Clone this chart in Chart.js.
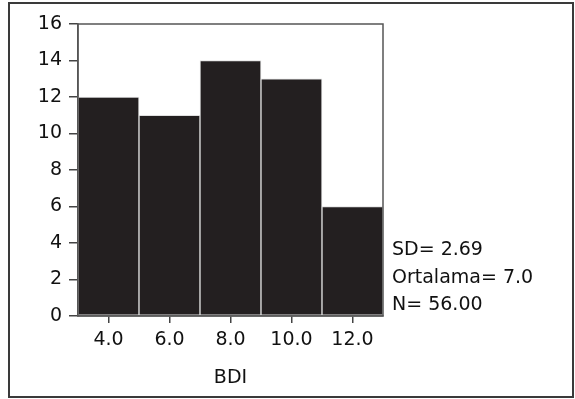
<!DOCTYPE html>
<html>
<head>
<meta charset="utf-8">
<script src="https://cdn.jsdelivr.net/npm/chart.js@4"></script>
<style>
  html, body { margin: 0; padding: 0; background: #fff; }
  #wrap { width: 575px; height: 399px; }
</style>
</head>
<body>
<div id="wrap"><canvas id="grafico" width="575" height="399"></canvas></div>
<script>
// Datos del histograma
const categorias = ['4.0', '6.0', '8.0', '10.0', '12.0'];
const frecuencias = [12, 11, 14, 13, 6];
const tituloX = 'BDI';
const estadisticas = ['SD= 2.69', 'Ortalama= 7.0', 'N= 56.00'];

const fuente = { family: 'DejaVu Sans', size: 19 };
const colorTexto = '#111';

// Marco exterior, marco del área y texto de estadísticas
const marcos = {
  id: 'marcos',
  afterDraw(chart) {
    const ctx = chart.ctx;
    const a = chart.chartArea;
    ctx.save();
    // borde exterior
    ctx.strokeStyle = '#3a3a3a';
    ctx.lineWidth = 2;
    ctx.strokeRect(9, 3, 564, 394);
    // marco del área de trazado
    ctx.strokeStyle = '#555';
    ctx.lineWidth = 1.5;
    ctx.strokeRect(a.left, a.top, a.right - a.left, a.bottom - a.top);
    // estadísticas a la derecha
    ctx.fillStyle = colorTexto;
    ctx.font = fuente.size + 'px ' + fuente.family;
    ctx.textAlign = 'left';
    ctx.textBaseline = 'alphabetic';
    estadisticas.forEach((t, i) => {
      ctx.fillText(t, a.right + 9, a.bottom - 61 + i * 27.5);
    });
    ctx.restore();
  }
};

const ctx = document.getElementById('grafico').getContext('2d');
new Chart(ctx, {
  type: 'bar',
  data: {
    labels: categorias,
    datasets: [{
      data: frecuencias,
      backgroundColor: '#231f20',
      borderColor: '#e0e0e0',
      borderWidth: 1,
      borderSkipped: false,
      categoryPercentage: 1,
      barPercentage: 1,
    }],
  },
  options: {
    responsive: false,
    animation: false,
    layout: { padding: { left: 0, top: 24, right: 192, bottom: 0 } },
    plugins: {
      legend: { display: false },
      tooltip: { enabled: false },
    },
    scales: {
      x: {
        grid: { offset: false, drawOnChartArea: false, drawTicks: true, tickLength: 7, color: '#444', lineWidth: 1.5 },
        border: { display: true, color: '#555', width: 1.5 },
        ticks: { color: colorTexto, font: fuente, padding: 6, maxRotation: 0 },
        title: { display: true, text: tituloX, color: colorTexto, font: fuente, padding: { top: 0, bottom: 10 } },
        afterFit(scale) { scale.height = 83; },
      },
      y: {
        min: 0,
        max: 16,
        grid: { drawOnChartArea: false, drawTicks: true, tickLength: 9, color: '#444', lineWidth: 1.5 },
        border: { display: true, color: '#555', width: 1.5 },
        ticks: { stepSize: 2, color: colorTexto, font: fuente, padding: 7 },
        afterFit(scale) { scale.width = 78; },
      },
    },
  },
  plugins: [marcos],
});
</script>
</body>
</html>
